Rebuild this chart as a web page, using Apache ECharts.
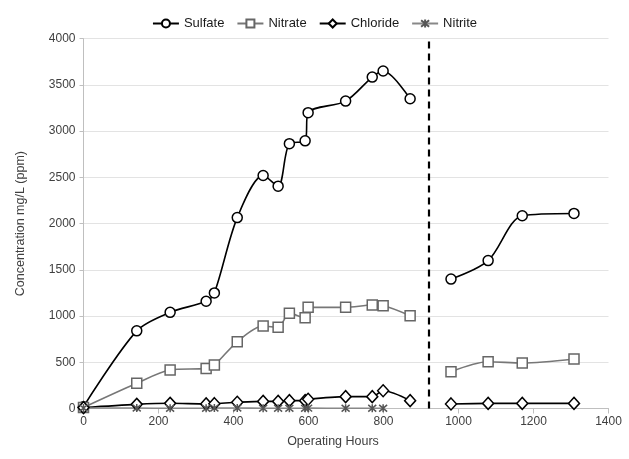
<!DOCTYPE html>
<html>
<head>
<meta charset="utf-8">
<script src="https://cdn.jsdelivr.net/npm/echarts@6/dist/echarts.min.js"></script>
<style>
html,body{margin:0;padding:0;background:#fff;}
#chart{width:629px;height:459px;}
</style>
</head>
<body>
<div id="chart"></div>
<script>
// Operating hours (period 1 and period 2)
const hours1 = [0, 142, 231, 327, 349, 410, 479, 519, 549, 591, 599, 699, 770, 799, 871];
const hours2 = [980, 1079, 1170, 1308];
const nitriteHours = [0, 142, 231, 327, 349, 410, 479, 519, 549, 591, 599, 699, 770, 799];

const sulfate1 = [20, 840, 1040, 1160, 1250, 2065, 2520, 2405, 2865, 2895, 3200, 3325, 3585, 3650, 3350];
const sulfate2 = [1400, 1600, 2085, 2110];
const nitrate1 = [10, 272, 416, 434, 470, 722, 892, 878, 1029, 982, 1094, 1094, 1119, 1112, 1004];
const nitrate2 = [398, 506, 492, 535];
const chloride1 = [10, 45, 56, 50, 52, 67, 77, 77, 85, 85, 100, 128, 128, 192, 85];
const chloride2 = [49, 55, 55, 55];
const nitrite1 = [5, 5, 2, 2, 5, 5, 3, 2, 2, 2, 4, 3, 3, 3];

const switchHour = 920;
const yTicks = [0, 500, 1000, 1500, 2000, 2500, 3000, 3500, 4000];
const xTicks = [0, 200, 400, 600, 800, 1000, 1200, 1400];

const pair = (xs, ys) => xs.map((x, i) => [x, ys[i]]);
const asterisk = 'path://M0,0L10,10M10,0L0,10M5,-1L5,11';

function mk(name, xs, ys, opts) {
  return Object.assign({
    name: name,
    type: 'line',
    data: pair(xs, ys),
    smooth: 0.3,
    symbolSize: 10,
    z: 3
  }, opts);
}

const styles = {
  Sulfate: {symbol: 'circle', lineStyle: {color: '#000', width: 1.6}, itemStyle: {color: '#fff', borderColor: '#000', borderWidth: 1.5}, color: '#000'},
  Nitrate: {symbol: 'rect', symbolSize: 10, lineStyle: {color: '#777', width: 1.6}, itemStyle: {color: '#fff', borderColor: '#666', borderWidth: 1.5}, color: '#666'},
  Chloride: {symbol: 'diamond', symbolSize: [11, 12], lineStyle: {color: '#000', width: 1.6}, itemStyle: {color: '#fff', borderColor: '#000', borderWidth: 1.5}, color: '#000'},
  Nitrite: {symbol: asterisk, symbolSize: 8, lineStyle: {color: '#888', width: 1.6}, itemStyle: {color: 'none', borderColor: '#555', borderWidth: 1.5}, color: '#555'}
};

const series = [
  mk('Sulfate', hours1, sulfate1, styles.Sulfate),
  mk('Sulfate', hours2, sulfate2, styles.Sulfate),
  mk('Nitrate', hours1, nitrate1, styles.Nitrate),
  mk('Nitrate', hours2, nitrate2, styles.Nitrate),
  mk('Chloride', hours1, chloride1, styles.Chloride),
  mk('Chloride', hours2, chloride2, styles.Chloride),
  mk('Nitrite', nitriteHours, nitrite1, styles.Nitrite)
];
series[0].markLine = {
  silent: true,
  symbol: 'none',
  label: {show: false},
  lineStyle: {color: '#000', type: [7, 5], width: 2.2},
  data: [{xAxis: switchHour}]
};

const chart = echarts.init(document.getElementById('chart'), null, {renderer: 'canvas'});
chart.setOption({
  animation: false,
  backgroundColor: '#fff',
  textStyle: {fontFamily: 'Liberation Sans, Arial, sans-serif'},
  legend: {
    top: 12,
    left: 'center',
    itemWidth: 26,
    itemHeight: 10,
    itemGap: 12,
    textStyle: {fontSize: 13, color: '#1a1a1a'},
    data: ['Sulfate', 'Nitrate', 'Chloride', 'Nitrite']
  },
  grid: {left: 83.5, right: 20.5, top: 38.7, bottom: 50.5},
  xAxis: {
    type: 'value',
    min: xTicks[0],
    max: xTicks[xTicks.length - 1],
    interval: 200,
    name: 'Operating Hours',
    nameLocation: 'middle',
    nameGap: 27,
    nameTextStyle: {fontSize: 12.5, color: '#404040', padding: [0, 26, 0, 0]},
    axisLine: {show: true, lineStyle: {color: '#bfbfbf', width: 1}},
    axisTick: {show: true, length: 5, lineStyle: {color: '#bfbfbf'}},
    axisLabel: {fontSize: 12, color: '#404040', margin: 7, formatter: v => String(v)},
    splitLine: {show: false}
  },
  yAxis: {
    type: 'value',
    min: yTicks[0],
    max: yTicks[yTicks.length - 1],
    interval: 500,
    name: 'Concentration mg/L (ppm)',
    nameLocation: 'middle',
    nameGap: 56,
    nameTextStyle: {fontSize: 12.5, color: '#404040'},
    axisLine: {show: true, lineStyle: {color: '#bfbfbf', width: 1}},
    axisTick: {show: true, length: 4, lineStyle: {color: '#bfbfbf'}},
    axisLabel: {fontSize: 12, color: '#404040', margin: 8, formatter: v => String(v)},
    splitLine: {show: true, lineStyle: {color: '#e3e3e3', width: 1}}
  },
  series: series
});
</script>
</body>
</html>
